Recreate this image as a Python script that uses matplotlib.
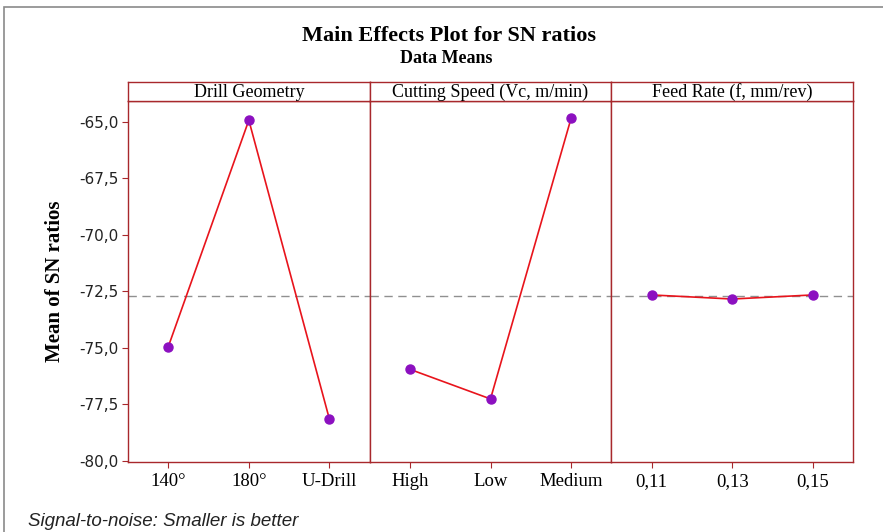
import matplotlib
matplotlib.use("Agg")
import matplotlib.pyplot as plt
from matplotlib.patches import Rectangle

plt.rcParams['font.family'] = ['Liberation Serif', 'DejaVu Serif']

# mean SN ratio for each factor level
factors = ["Drill Geometry", "Cutting Speed (Vc, m/min)", "Feed Rate (f, mm/rev)"]
drill_levels = ["140°", "180°", "U-Drill"]
drill_sn = [-74.95, -64.93, -78.15]
speed_levels = ["High", "Low", "Medium"]
speed_sn = [-75.95, -77.26, -64.85]
feed_levels = ["0,11", "0,13", "0,15"]
feed_sn = [-72.66, -72.84, -72.66]

y_ticks = [-65.0, -67.5, -70.0, -72.5, -75.0, -77.5, -80.0]
grand_mean = sum(drill_sn + speed_sn + feed_sn) / 9

frame_col = "#a8282c"
line_col = "#e8141c"
dot_col = "#8c10c0"

fig = plt.figure(figsize=(8.83, 5.32), dpi=100)

# outer border
fig.patches.append(Rectangle((4 / 883, -0.02), 1.02, 1 - 7 / 532 + 0.02,
                             transform=fig.transFigure, fill=False,
                             edgecolor="#8a8a8a", linewidth=1.2))

fig.text(0.508, 0.932, "Main Effects Plot for SN ratios", ha="center", va="center",
         fontsize=16, fontweight="bold")
fig.text(0.505, 0.890, "Data Means", ha="center", va="center",
         fontsize=13, fontweight="bold")

left, right = 128 / 883, 853 / 883
bottom, top = 1 - 462 / 532, 1 - 101 / 532
strip_top = 1 - 82 / 532
w = (right - left) / 3

panels = [(drill_levels, drill_sn), (speed_levels, speed_sn), (feed_levels, feed_sn)]
for i, (levels, vals) in enumerate(panels):
    ax = fig.add_axes([left + i * w, bottom, w, top - bottom])
    xs = list(range(len(levels)))
    ax.axhline(grand_mean, color="#909090", linestyle=(0, (6, 4)), linewidth=1.0, zorder=1)
    ax.plot(xs, vals, color=line_col, linewidth=1.2, zorder=2)
    ax.plot(xs, vals, "o", color=dot_col, markersize=6.5, zorder=3)
    ax.set_xlim(-0.5, 2.5)
    ax.set_ylim(-80.05, -64.08)
    ax.set_xticks(xs)
    ax.set_xticklabels(levels, fontsize=13.5)
    ax.set_yticks(y_ticks)
    if i == 0:
        ax.set_yticklabels([("%.1f" % v).replace(".", ",") for v in y_ticks],
                           fontsize=11, family="DejaVu Sans", color="#222222")
        ax.set_ylabel("Mean of SN ratios", fontsize=15, fontweight="bold")
        ax.yaxis.set_label_coords(-0.262, 0.5)
        ax.tick_params(axis="y", length=4, color=frame_col, pad=3)
    else:
        ax.tick_params(axis="y", left=False, labelleft=False)
    ax.tick_params(axis="x", length=4, color=frame_col, pad=4)
    for s in ax.spines.values():
        s.set_color(frame_col)
        s.set_linewidth(1.0)

    # factor name strip
    sx = fig.add_axes([left + i * w, top, w, strip_top - top])
    sx.set_xticks([])
    sx.set_yticks([])
    for s in sx.spines.values():
        s.set_color(frame_col)
        s.set_linewidth(1.0)
    sx.text(0.5, 0.45, factors[i], ha="center", va="center", fontsize=13,
            transform=sx.transAxes)

fig.text(28 / 883, 1 - 521 / 532, "Signal-to-noise: Smaller is better", ha="left",
         va="center", fontsize=13.5, style="italic", family="Liberation Sans",
         color="#222222")

fig.savefig("out.png", dpi=100)
